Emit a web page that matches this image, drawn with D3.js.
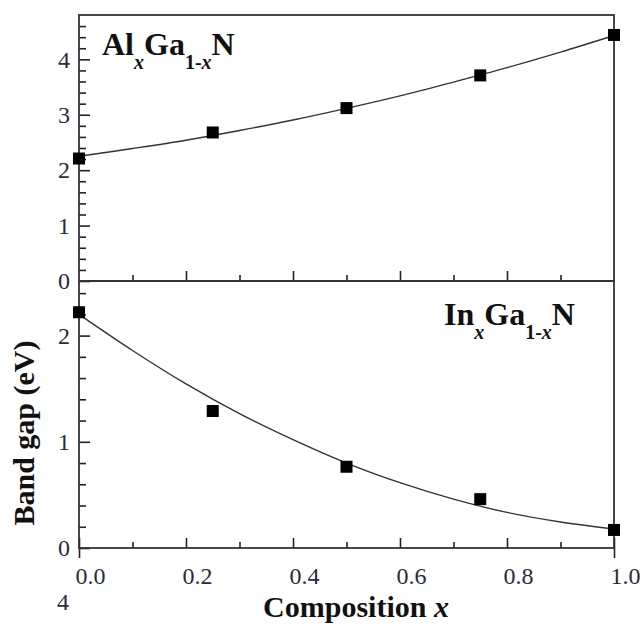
<!DOCTYPE html>
<html><head><meta charset="utf-8">
<script src="https://cdn.jsdelivr.net/npm/d3@7"></script>
</head><body>
<script>
// ---- data ----
const compositionCurve = [0, 0.1, 0.2, 0.3, 0.4, 0.5, 0.6, 0.7, 0.8, 0.9, 1.0];
const alganCurve = [2.25, 2.39, 2.54, 2.715, 2.905, 3.115, 3.34, 3.59, 3.85, 4.13, 4.43];
const inganCurve = [2.20, 1.86, 1.545, 1.265, 1.02, 0.80, 0.615, 0.46, 0.335, 0.245, 0.18];
const compositionPoints = [0, 0.25, 0.5, 0.75, 1.0];
const alganPoints = [2.21, 2.68, 3.12, 3.71, 4.44];
const inganPoints = [2.22, 1.29, 0.765, 0.46, 0.17];
const xMajorTicks = [0, 0.2, 0.4, 0.6, 0.8, 1.0];
const xTickLabels = ["0.0", "0.2", "0.4", "0.6", "0.8", "1.0"];
const xMinorTicks = [0.1, 0.3, 0.5, 0.7, 0.9];
const topMajorTicks = [0, 1, 2, 3, 4];
const topMinorTicks = [0.2,0.4,0.6,0.8,1.2,1.4,1.6,1.8,2.2,2.4,2.6,2.8,3.2,3.4,3.6,3.8,4.2,4.4,4.6];
const botMajorTicks = [0, 1, 2];
const botMinorTicks = [0.2,0.4,0.6,0.8,1.2,1.4,1.6,1.8,2.2,2.4];

const W = 644, H = 628;
const L = 79, R = 614, T = 15, MID = 281, B = 548;
const FONT = "Liberation Serif";
const ink = "#222";
const labelInk = "#2a2a40";

d3.select("body").style("margin", "0px");
const svg = d3.select("body").append("svg").attr("width", W).attr("height", H)
  .style("display", "block");

const x = d3.scaleLinear().domain([0, 1]).range([L, R]);
const yTop = d3.scaleLinear().domain([0, 4.8]).range([MID, T]);
const yBot = d3.scaleLinear().domain([0, 2.5]).range([B, MID + 1.5]);

function styleAxis(g) {
  g.attr("font-family", FONT).attr("font-size", 24);
  g.select(".domain").remove();
  g.selectAll("line").attr("stroke", ink).attr("stroke-width", 1.6);
  g.selectAll("text").attr("fill", labelInk)
    .style("font-family", FONT).style("font-size", "24px");
}

// y axes (ticks point inward)
svg.append("g").attr("transform", `translate(${L},0)`)
  .call(d3.axisLeft(yTop).tickValues(topMajorTicks).tickSize(-11).tickPadding(9).tickFormat(d3.format("d")))
  .call(styleAxis);
svg.append("g").attr("transform", `translate(${L},0)`)
  .call(d3.axisLeft(yTop).tickValues(topMinorTicks).tickSize(-7).tickFormat(""))
  .call(styleAxis);
svg.append("g").attr("transform", `translate(${L},0)`)
  .call(d3.axisLeft(yBot).tickValues(botMajorTicks).tickSize(-11).tickPadding(9).tickFormat(d3.format("d")))
  .call(styleAxis);
svg.append("g").attr("transform", `translate(${L},0)`)
  .call(d3.axisLeft(yBot).tickValues(botMinorTicks).tickSize(-7).tickFormat(""))
  .call(styleAxis);

// x ticks on the middle divider (top panel, pointing up)
svg.append("g").attr("transform", `translate(0,${MID})`)
  .call(d3.axisBottom(x).tickValues(xMajorTicks.slice(1, -1)).tickSize(-10).tickFormat(""))
  .call(styleAxis);
svg.append("g").attr("transform", `translate(0,${MID})`)
  .call(d3.axisBottom(x).tickValues(xMinorTicks).tickSize(-6).tickFormat(""))
  .call(styleAxis);

// bottom x axis
const xb = svg.append("g").attr("transform", `translate(0,${B})`)
  .call(d3.axisBottom(x).tickValues(xMajorTicks).tickSize(-10).tickPadding(19)
    .tickFormat((d, i) => xTickLabels[i]))
  .call(styleAxis);
xb.selectAll("text").attr("dx", 11);
svg.append("g").attr("transform", `translate(0,${B})`)
  .call(d3.axisBottom(x).tickValues(xMinorTicks).tickSize(-6).tickFormat(""))
  .call(styleAxis);
svg.append("g").attr("transform", `translate(0,${B})`)
  .call(d3.axisBottom(x).tickValues([0, 1]).tickSize(10).tickFormat(""))
  .call(styleAxis);

// frames
svg.append("rect").attr("x", L).attr("y", T).attr("width", R - L).attr("height", B - T)
  .attr("fill", "none").attr("stroke", "#333").attr("stroke-width", 1.8);
svg.append("line").attr("x1", L).attr("x2", R).attr("y1", MID).attr("y2", MID)
  .attr("stroke", "#333").attr("stroke-width", 1.8);

// curves
const lineTop = d3.line().x((d, i) => x(compositionCurve[i])).y(d => yTop(d)).curve(d3.curveCatmullRom);
const lineBot = d3.line().x((d, i) => x(compositionCurve[i])).y(d => yBot(d)).curve(d3.curveCatmullRom);
svg.append("path").datum(alganCurve).attr("d", lineTop)
  .attr("fill", "none").attr("stroke", "#333").attr("stroke-width", 1.4);
svg.append("path").datum(inganCurve).attr("d", lineBot)
  .attr("fill", "none").attr("stroke", "#333").attr("stroke-width", 1.4);

// markers
const S = 12;
svg.append("g").selectAll("rect").data(alganPoints).join("rect")
  .attr("x", (d, i) => x(compositionPoints[i]) - S / 2).attr("y", d => yTop(d) - S / 2)
  .attr("width", S).attr("height", S).attr("fill", "#000");
svg.append("g").selectAll("rect").data(inganPoints).join("rect")
  .attr("x", (d, i) => x(compositionPoints[i]) - S / 2).attr("y", d => yBot(d) - S / 2)
  .attr("width", S).attr("height", S).attr("fill", "#000");

function txt(sel, size, weight) {
  return sel.attr("font-family", FONT).style("font-family", FONT)
    .style("font-size", size + "px").style("font-weight", weight);
}

// panel labels
function formula(first, px, py) {
  const t = txt(svg.append("text").attr("x", px).attr("y", py), 32, "bold").attr("fill", "#111");
  t.append("tspan").text(first);
  t.append("tspan").attr("dy", 14).style("font-size", "20px").style("font-style", "italic").text("x");
  t.append("tspan").attr("dy", -14).text("Ga");
  t.append("tspan").attr("dy", 14).style("font-size", "20px").text("1-");
  t.append("tspan").style("font-size", "20px").style("font-style", "italic").text("x");
  t.append("tspan").attr("dy", -14).text("N");
  return t;
}
formula("Al", 102, 55);
formula("In", 444, 325);

// axis titles
txt(svg.append("text").attr("transform", "translate(34,433) rotate(-90)"), 30, "bold")
  .attr("text-anchor", "middle").attr("fill", "#111").text("Band gap (eV)");
const xt = txt(svg.append("text").attr("x", 356).attr("y", 617), 30, "bold")
  .attr("text-anchor", "middle").attr("fill", "#111");
xt.append("tspan").text("Composition ");
xt.append("tspan").style("font-style", "italic").text("x");

// stray page-number "4"
txt(svg.append("text").attr("x", 57).attr("y", 610), 24, "normal").attr("fill", labelInk).text("4");
</script>
</body></html>
